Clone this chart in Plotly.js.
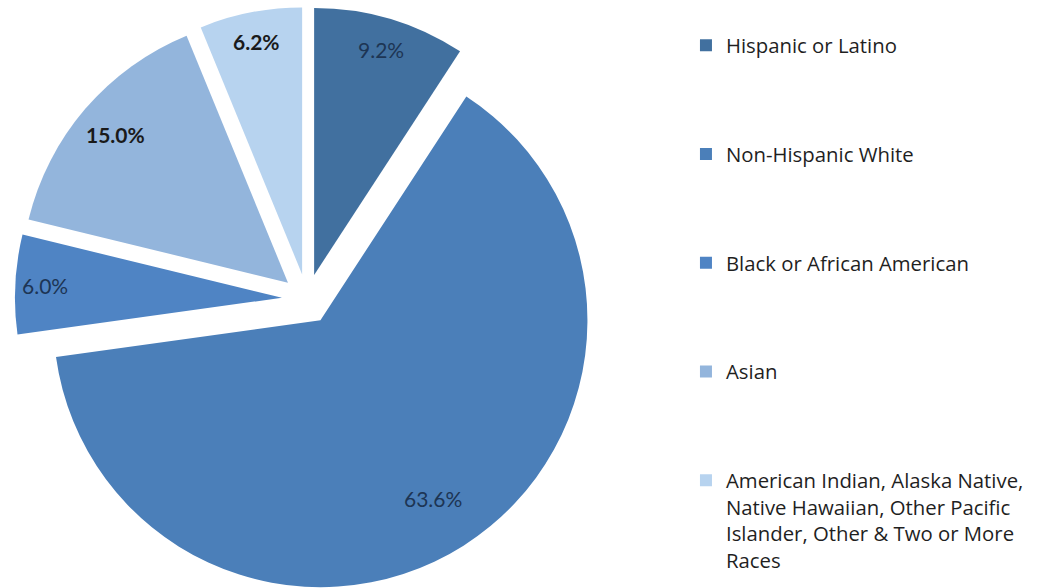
<!DOCTYPE html>
<html>
<head>
<meta charset="utf-8">
<script src="https://cdn.plot.ly/plotly-3.0.1.min.js"></script>
<style>html,body{margin:0;padding:0;background:#fff;overflow:hidden;}#chart{width:1055px;height:592px;}</style>
</head>
<body>
<div id="chart"></div>
<script>
const categories = [
  "Hispanic or Latino",
  "Non-Hispanic White",
  "Black or African American",
  "Asian",
  "American Indian, Alaska Native,<br>Native Hawaiian, Other Pacific<br>Islander, Other & Two or More<br>Races"
];
const shares = [9.2, 63.6, 6.0, 15.0, 6.2];
const sliceColors = ["#41709f", "#4b7fb9", "#4f84c4", "#93b5dc", "#b7d3ef"];
const labelColors = ["#1d3554", "#1d3554", "#1d3554", "#1a1a1a", "#1a1a1a"];
const labelWeights = ["normal", "normal", "normal", "bold", "bold"];
const pulls = [0.094, 0.094, 0.094, 0.094, 0.094];
// label distance from slice apex, as a fraction of the radius (inside-end labels)
const labelRadius = [0.88, 0.79, 0.89, 0.85, 0.89];

// pad legend entries so each occupies four lines
const legendLabels = categories.map(c => {
  const n = c.split("<br>").length;
  return c + "<br> ".repeat(Math.max(0, 4 - n));
});

const trace = {
  type: "pie",
  labels: legendLabels,
  values: shares,
  sort: false,
  direction: "clockwise",
  rotation: 0,
  pull: pulls,
  marker: {colors: sliceColors, line: {width: 0}},
  textinfo: "none",
  hoverinfo: "label+value",
  domain: {x: [0.01412, 0.56787], y: [0.0015, 0.9883]}
};

const layout = {
  width: 1055,
  height: 592,
  margin: {l: 0, r: 0, t: 0, b: 0},
  paper_bgcolor: "#ffffff",
  showlegend: true,
  legend: {
    x: 0.6502, y: 0.9569, xanchor: "left", yanchor: "top",
    valign: "top",
    font: {family: "'Open Sans', sans-serif", size: 20.34, color: "#1f1f1f"},
    bgcolor: "rgba(0,0,0,0)",
    traceorder: "normal"
  }
};

const gd = document.getElementById("chart");
Plotly.newPlot(gd, [trace], layout, {displayModeBar: false, staticPlot: true}).then(() => {
  const cd = gd.calcdata[0];
  const cd0 = cd[0];
  const fs = gd._fullLayout._size;
  const anns = cd.map(pt => {
    const i = pt.i;
    const k = pulls[i] + labelRadius[i];
    const px = cd0.cx + pt.pxmid[0] * k;
    const py = cd0.cy + pt.pxmid[1] * k;
    return {
      x: (px - fs.l) / fs.w,
      y: 1 - (py - fs.t) / fs.h,
      xref: "paper", yref: "paper",
      xanchor: "center", yanchor: "middle",
      showarrow: false,
      text: shares[i].toFixed(1) + "%",
      font: {family: "Lato, sans-serif", size: 21, color: labelColors[i], weight: labelWeights[i]}
    };
  });
  return Plotly.relayout(gd, {annotations: anns});
});
</script>
</body>
</html>
